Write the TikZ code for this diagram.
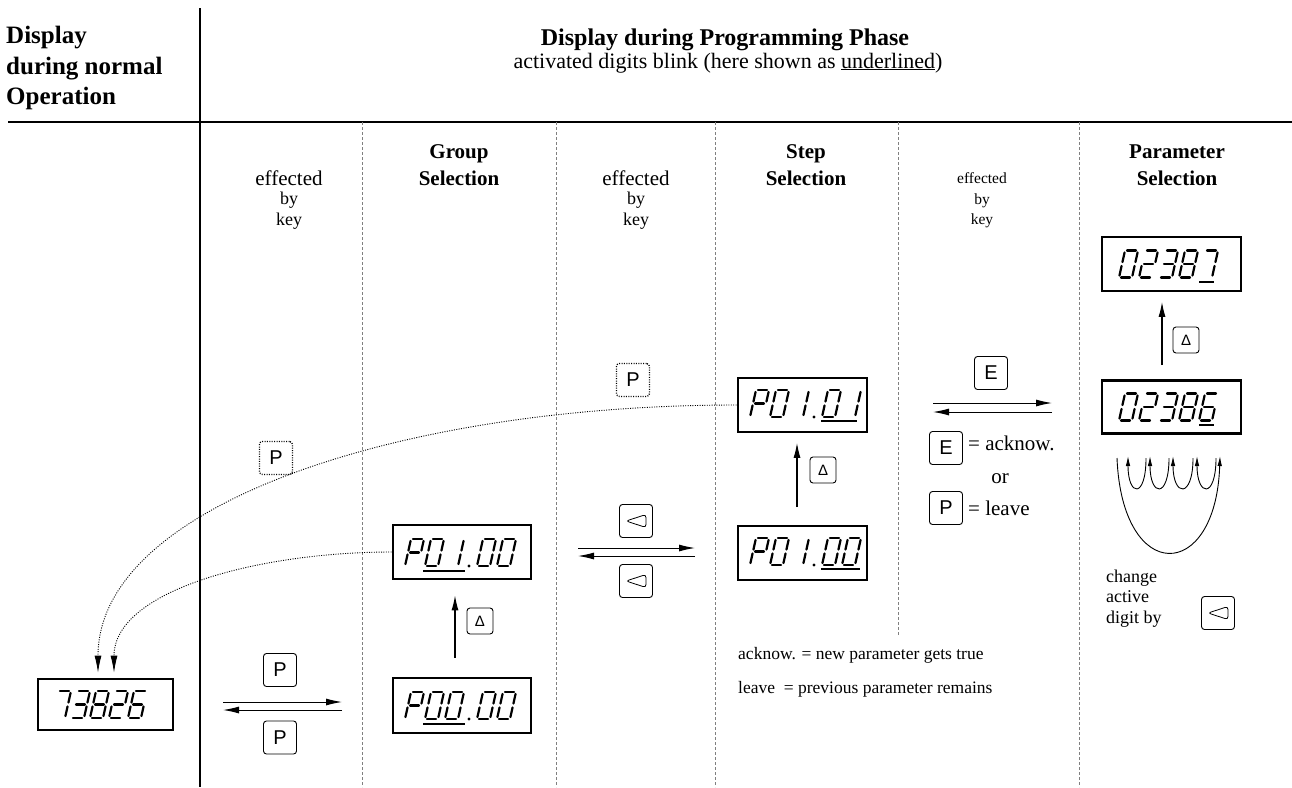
\documentclass[tikz,border=0pt]{standalone}
\usepackage{fontspec}
\setmainfont{Liberation Serif}
\setsansfont{Liberation Sans}
\usetikzlibrary{arrows.meta}

\tikzset{
  segline/.style={line width=2.2pt, line cap=round, shorten <=2pt, shorten >=2pt},
  uline/.style={line width=1.8pt},
  disp/.style={draw, line width=2.8pt, fill=white, inner sep=0pt},
  divider/.style={gray, line width=0.7pt, dash pattern=on 3pt off 2pt},
  keybox/.style={draw, rounded corners=3pt, line width=0.9pt, minimum size=33pt, inner sep=0pt,
    font=\sffamily\fontsize{20}{20}\selectfont},
  dotkey/.style={keybox, line width=1.3pt, dash pattern=on 1pt off 1.4pt},
  deltakey/.style={keybox, minimum size=26pt, font=\sffamily\fontsize{15}{15}\selectfont},
  leftkey/.style={keybox, path picture={\draw[line width=0.8pt, line join=miter]
    ([xshift=-10pt]path picture bounding box.center) -- ++(20,-6.5) -- ++(0,13) -- cycle;}},
  xarr/.style={line width=1pt, -{Latex[length=16pt,width=7pt]}},
  uparr/.style={line width=1.1pt, -{Latex[length=15pt,width=7pt]}},
  looparr/.style={line width=0.9pt, -{Latex[length=10pt,width=4.5pt]}},
  dotarr/.style={line width=0.9pt, dash pattern=on 1pt off 1.4pt, -{Latex[length=17pt,width=7pt]}},
  lhead/.style={font=\bfseries\fontsize{25}{30}\selectfont, inner sep=0pt},
  thead/.style={font=\bfseries\fontsize{24}{28}\selectfont, inner sep=0pt},
  tsub/.style={font=\fontsize{22}{26}\selectfont, inner sep=0pt},
  chead/.style={font=\bfseries\fontsize{21}{25}\selectfont, inner sep=0pt},
  txt/.style={font=\fontsize{21}{25}\selectfont, inner sep=0pt},
  txtsm/.style={font=\fontsize{18}{22}\selectfont, inner sep=0pt},
  txtxs/.style={font=\fontsize{15.5}{18}\selectfont, inner sep=0pt},
  note/.style={font=\fontsize{17.5}{21}\selectfont, inner sep=0pt},
}

% seven-segment digit: segments relative to the bottom-left corner (y points down)
\pgfkeys{
  /segs/a/.code={\draw[segline] (6,-27) -- (19,-27);},
  /segs/b/.code={\draw[segline] (19,-27) -- (16,-13.5);},
  /segs/c/.code={\draw[segline] (16,-13.5) -- (13,0);},
  /segs/d/.code={\draw[segline] (0,0) -- (13,0);},
  /segs/e/.code={\draw[segline] (3,-13.5) -- (0,0);},
  /segs/f/.code={\draw[segline] (6,-27) -- (3,-13.5);},
  /segs/g/.code={\draw[segline] (3,-13.5) -- (16,-13.5);},
}
\expandafter\def\csname segmap0\endcsname{a,b,c,d,e,f}
\expandafter\def\csname segmap1\endcsname{b,c}
\expandafter\def\csname segmap2\endcsname{a,b,g,e,d}
\expandafter\def\csname segmap3\endcsname{a,b,g,c,d}
\expandafter\def\csname segmap6\endcsname{a,f,g,e,d,c}
\expandafter\def\csname segmap7\endcsname{a,b,c}
\expandafter\def\csname segmap8\endcsname{a,b,c,d,e,f,g}
\expandafter\def\csname segmapP\endcsname{a,b,e,f,g}
\def\segdot{D}

\newcommand\segdigit[3]{%
  \begin{scope}[shift={(#1,#2)}]%
    \edef\seglist{\csname segmap#3\endcsname}%
    \foreach \s in \seglist {\edef\segkey{\noexpand\pgfkeys{/segs/\s}}\segkey}%
  \end{scope}}

% a row of digits; D stands for the decimal point
\newcommand\segrow[4][20]{%
  \xdef\segx{#2}%
  \foreach \ch in {#4}{%
    \ifx\ch\segdot
      \fill (\segx+4,#3) circle (1.6pt);
      \pgfmathsetmacro\segnx{\segx+12}\xdef\segx{\segnx}%
    \else
      \segdigit{\segx}{#3}{\ch}%
      \pgfmathsetmacro\segnx{\segx+#1}\xdef\segx{\segnx}%
    \fi}}

\begin{document}
\begin{tikzpicture}[x=1pt,y=-1pt]
\useasboundingbox (0,0) rectangle (1292,787);
\fill[white] (0,0) rectangle (1292,787);

% table frame and column dividers
\draw[line width=2.4pt] (200,8) -- (200,787);
\draw[line width=1.2pt] (8,122) -- (1292,122);
\foreach \x in {362,556,715,1079} \draw[divider] (\x,122) -- (\x,787);
\draw[divider] (898,122) -- (898,636);

% headings
\node[lhead, anchor=base west] (lh1) at (6,43) {Display};
\node[lhead, anchor=base west] (lh2) at (6,74) {during normal};
\node[lhead, anchor=base west] (lh3) at (6,104) {Operation};
\node[thead, anchor=base] (th1) at (725,45) {Display during Programming Phase};
\node[tsub, anchor=base] (th2) at (728,68) {activated digits blink (here shown as \underline{underlined})};

\node[chead, anchor=base] (gh1) at (459,158) {Group};
\node[chead, anchor=base] (gh2) at (459,185) {Selection};
\node[chead, anchor=base] (sh1) at (806,158) {Step};
\node[chead, anchor=base] (sh2) at (806,185) {Selection};
\node[chead, anchor=base] (ph1) at (1177,158) {Parameter};
\node[chead, anchor=base] (ph2) at (1177,185) {Selection};

\node[txt, anchor=base] (e1a) at (289,185) {effected};
\node[txtsm, anchor=base] (e1b) at (289,204) {by};
\node[txtsm, anchor=base] (e1c) at (289,225) {key};
\node[txt, anchor=base] (e2a) at (636,185) {effected};
\node[txtsm, anchor=base] (e2b) at (636,204) {by};
\node[txtsm, anchor=base] (e2c) at (636,225) {key};
\node[txtxs, anchor=base] (e3a) at (982,183) {effected};
\node[txtxs, anchor=base] (e3b) at (982,204) {by};
\node[txtxs, anchor=base] (e3c) at (982,224) {key};

% displays
\node[disp, minimum width=135pt, minimum height=51pt] (d0) at (105.5,704.5) {};
\node[disp, minimum width=138pt, minimum height=55pt] (g0) at (462,705.5) {};
\node[disp, minimum width=138pt, minimum height=54pt] (g1) at (462,552) {};
\node[disp, minimum width=129pt, minimum height=54pt] (s1) at (802.5,405) {};
\node[disp, minimum width=129pt, minimum height=54pt] (s0) at (802.5,553) {};
\node[disp, minimum width=139pt, minimum height=54pt] (p1) at (1171.5,264) {};
\node[disp, minimum width=139pt, minimum height=53pt] (p0) at (1171.5,407) {};

\segrow[19]{52}{718}{7,3,8,2,6}
\segrow{405}{719}{P,0,0,D,0,0}
\draw[uline] (423,724) -- (465,724);
\segrow{405}{566}{P,0,1,D,0,0}
\draw[uline] (423,571) -- (465,571);
\segrow{750}{417}{P,0,1,D,0,1}
\draw[uline] (821,421) -- (857,421);
\segrow{750}{565}{P,0,1,D,0,0}
\draw[uline] (821,569) -- (860,569);
\segrow{1119}{277.5}{0,2,3,8,7}
\draw[uline] (1199,282) -- (1214,282);
\segrow{1119}{420.5}{0,2,3,8,6}
\draw[uline] (1199,425) -- (1214,425);

% keys
\node[keybox] (kp1) at (280,670) {P};
\node[keybox] (kp2) at (280,737.5) {P};
\node[leftkey] (kl1) at (636,521) {};
\node[leftkey] (kl2) at (636,581) {};
\node[keybox] (ke1) at (991,373) {E};
\node[keybox] (ke2) at (946,448) {E};
\node[keybox] (kp3) at (946,508) {P};
\node[deltakey] (kd1) at (480,621) {Δ};
\node[deltakey] (kd2) at (823,470) {Δ};
\node[deltakey] (kd3) at (1186,340) {Δ};
\node[dotkey] (kq1) at (633,380) {P};
\node[dotkey] (kq2) at (276,458) {P};
\node[leftkey] (kl3) at (1218,613) {};

% key legends
\node[txt, anchor=base west] (t1) at (968,450) {= acknow.};
\node[txt, anchor=base] (t2) at (1000,483) {or};
\node[txt, anchor=base west] (t3) at (968,515) {= leave};
\node[txtsm, anchor=base west] (c1) at (1106,582) {change};
\node[txtsm, anchor=base west] (c2) at (1106,602) {active};
\node[txtsm, anchor=base west] (c3) at (1106,623) {digit by};
\node[note, anchor=base west] (n1) at (738,659) {acknow. = new parameter gets true};
\node[note, anchor=base west] (n2) at (738,693) {leave\ \ = previous parameter remains};

% key-driven transitions
\coordinate (a1l) at (223,702); \coordinate (a1r) at (342,702);
\coordinate (b1l) at (223,710); \coordinate (b1r) at (342,710);
\draw[xarr] (a1l) -- (a1r);
\draw[xarr] (b1r) -- (b1l);
\coordinate (a2l) at (578,548); \coordinate (a2r) at (695,548);
\coordinate (b2l) at (578,556); \coordinate (b2r) at (695,556);
\draw[xarr] (a2l) -- (a2r);
\draw[xarr] (b2r) -- (b2l);
\coordinate (a3l) at (933,403); \coordinate (a3r) at (1052,403);
\coordinate (b3l) at (933,412); \coordinate (b3r) at (1052,412);
\draw[xarr] (a3l) -- (a3r);
\draw[xarr] (b3r) -- (b3l);

\draw[uparr, shorten <=19pt, shorten >=15pt] ([xshift=-7pt]g0.north) -- ([xshift=-7pt]g1.south);
\draw[uparr, shorten <=17.5pt, shorten >=9.5pt] ([xshift=-5.5pt]s0.north) -- ([xshift=-5.5pt]s1.south);
\draw[uparr, shorten <=14pt, shorten >=9.5pt] ([xshift=-9.5pt]p0.north) -- ([xshift=-9.5pt]p1.south);

% leaving the programming phase
\draw[dotarr, shorten >=5pt] (s1.west) .. controls (400,405) and (98,505) .. ([xshift=-7.5pt]d0.north);
\draw[dotarr, shorten >=5pt] (g1.west) .. controls (260,552) and (114,590) .. ([xshift=8.5pt]d0.north);

% moving the active digit
\coordinate (u1) at (1128,456); \coordinate (u2) at (1150,456);
\coordinate (u3) at (1173,456); \coordinate (u4) at (1197,456);
\coordinate (u5) at (1220,456);
\coordinate (v1) at (1117,458); \coordinate (v2) at (1146,458);
\coordinate (v3) at (1169,458); \coordinate (v4) at (1193,458);
\coordinate (v5) at (1216,458);
\draw[looparr] (v2) .. controls +(0,41) and +(0,41) .. (u1);
\draw[looparr] (v3) .. controls +(0,41) and +(0,41) .. (u2);
\draw[looparr] (v4) .. controls +(0,41) and +(0,41) .. (u3);
\draw[looparr] (v5) .. controls +(0,41) and +(0,41) .. (u4);
\draw[looparr] (v1) .. controls +(5,127) and +(-4,127) .. (u5);
\end{tikzpicture}
\end{document}
